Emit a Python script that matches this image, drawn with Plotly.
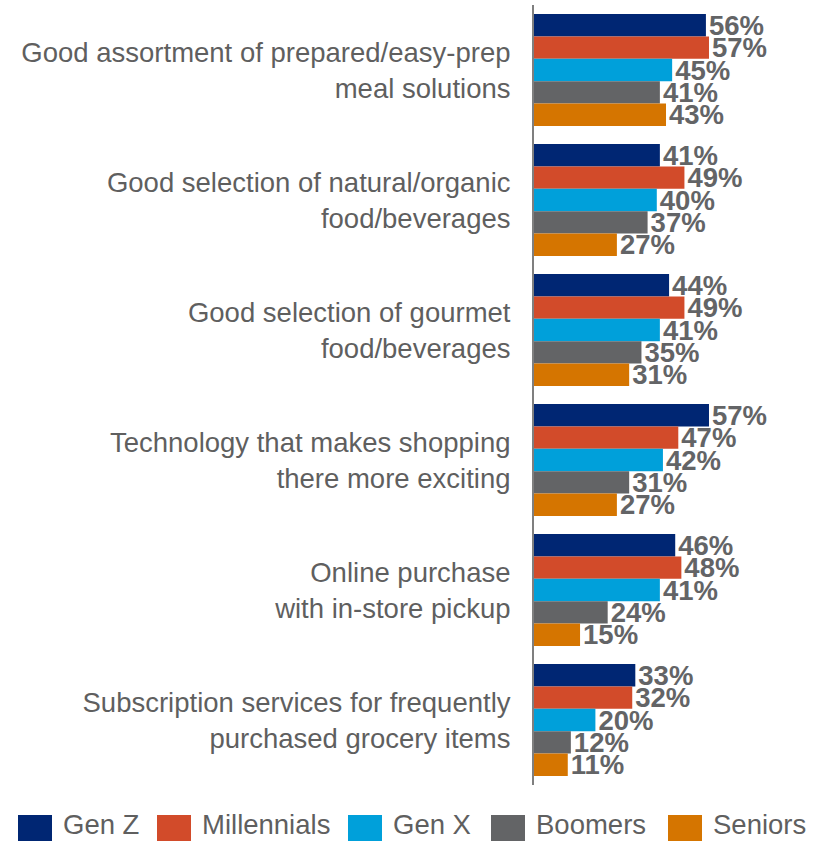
import plotly.graph_objects as go

# Survey categories (top to bottom)
categories = [
    "Good assortment of prepared/easy-prep<br>meal solutions",
    "Good selection of natural/organic<br>food/beverages",
    "Good selection of gourmet<br>food/beverages",
    "Technology that makes shopping<br>there more exciting",
    "Online purchase<br>with in-store pickup",
    "Subscription services for frequently<br>purchased grocery items",
]

generations = ["Gen Z", "Millennials", "Gen X", "Boomers", "Seniors"]

gen_z = [56, 41, 44, 57, 46, 33]
millennials = [57, 49, 49, 47, 48, 32]
gen_x = [45, 40, 41, 42, 41, 20]
boomers = [41, 37, 35, 31, 24, 12]
seniors = [43, 27, 31, 27, 15, 11]

series = [gen_z, millennials, gen_x, boomers, seniors]
colors = ["#002673", "#D24B2A", "#00A0DA", "#636466", "#D57500"]

FONT = "Arial, Liberation Sans, sans-serif"
W, H = 824, 842
ML, MR, MT, MB = 534, 0, 5, 57
PX_PER_PCT = 3.07

fig = go.Figure()
for name, vals, col in zip(generations, series, colors):
    fig.add_trace(go.Bar(
        y=categories,
        x=vals,
        name=name,
        orientation="h",
        marker=dict(color=col, line=dict(width=0)),
        text=[f"{v}%" for v in vals],
        textposition="outside",
        constraintext="none",
        cliponaxis=False,
        textfont=dict(family=FONT, size=27.5, color="#636466", weight="bold"),
        showlegend=False,
    ))

plot_w = W - ML - MR
plot_h = H - MT - MB

fig.update_layout(
    width=W,
    height=H,
    margin=dict(l=ML, r=MR, t=MT, b=MB, pad=0),
    paper_bgcolor="white",
    plot_bgcolor="white",
    barmode="group",
    bargap=0.138,
    bargroupgap=0,
    xaxis=dict(
        range=[0, plot_w / PX_PER_PCT],
        visible=False,
        fixedrange=True,
    ),
    yaxis=dict(
        autorange="reversed",
        showline=True,
        linecolor="#7f7f7f",
        linewidth=2,
        ticks="",
        showgrid=False,
        ticklabelstandoff=16,
        tickfont=dict(family=FONT, size=27.5, color="#5f5f5f"),
    ),
)

# Legend drawn as squares with labels below the plot
legend_left = [18, 157, 348, 491, 668]
sq_w, sq_top, sq_bot = 34, 815, 841
label_mid = 824


def px_x(px):
    return (px - ML) / plot_w


def px_y(py):
    return (H - MB - py) / plot_h


for name, col, left in zip(generations, colors, legend_left):
    fig.add_shape(
        type="rect", xref="paper", yref="paper",
        x0=px_x(left), x1=px_x(left + sq_w),
        y0=px_y(sq_bot), y1=px_y(sq_top),
        fillcolor=col, line=dict(width=0),
    )
    fig.add_annotation(
        xref="paper", yref="paper",
        x=px_x(left + sq_w + 9), y=px_y(label_mid),
        xanchor="left", yanchor="middle",
        text=name, showarrow=False,
        font=dict(family=FONT, size=27.5, color="#5f5f5f"),
    )

fig.write_html("out.html")
